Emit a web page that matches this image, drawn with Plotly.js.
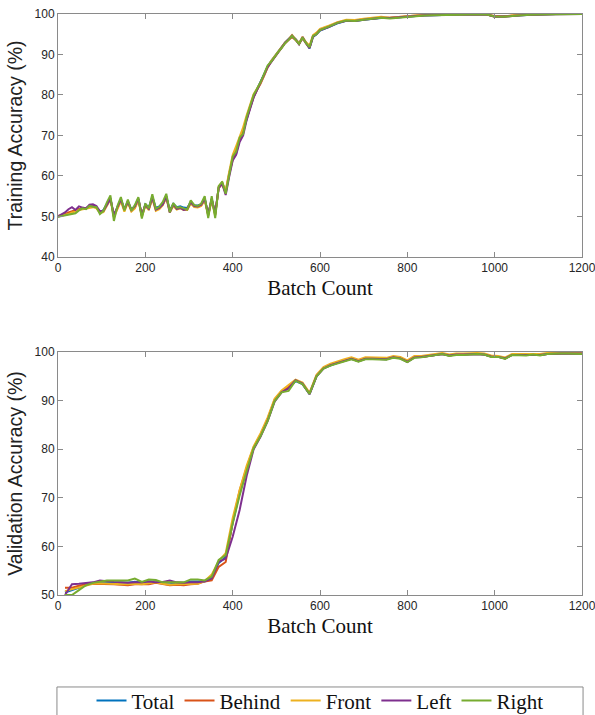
<!DOCTYPE html>
<html>
<head>
<meta charset="utf-8">
<script src="https://cdn.plot.ly/plotly-3.0.1.min.js"></script>
<style>
  html, body { margin: 0; padding: 0; background: #fff; }
  #chart { width: 595px; height: 715px; }
</style>
</head>
<body>
<div id="chart"></div>
<script>
// ---------------- DATA ----------------
const seriesNames = ["Total", "Behind", "Front", "Left", "Right"];
const seriesColors = ["#0072BD", "#D95319", "#EDB120", "#7E2F8E", "#77AC30"];

const trainBatch = [0,8,16,24,32,40,48,56,64,72,80,88,96,104,112,120,128,136,144,152,160,168,176,184,192,200,208,216,224,232,240,248,256,264,272,280,288,296,304,312,320,328,336,344,352,360,368,376,384,392,400,408,416,424,432,440,448,456,464,472,480,488,496,504,512,520,528,536,544,552,560,568,576,584,592,600,620,640,660,680,700,720,740,760,780,800,820,840,860,880,900,920,940,960,980,1000,1020,1040,1060,1080,1100,1120,1140,1160,1180,1200];

const trainTotal = [50.0,50.2,50.5,50.8,51.2,51.4,51.8,52.0,52.0,52.5,
  52.6,52.3,51.0,51.6,53.2,54.6,50.0,52.4,54.3,51.8,
  53.8,51.7,52.6,54.3,50.2,53.0,52.2,54.9,52.1,52.5,
  53.3,55.0,51.5,53.1,52.3,52.5,52.2,52.1,53.6,52.8,
  52.7,53.0,54.5,50.3,54.4,50.4,57.2,58.3,56.0,60.6,
  64.3,65.6,69.0,71.0,74.2,77.0,79.6,81.5,83.0,85.0,
  87.0,88.4,89.6,90.6,91.8,92.9,93.8,94.4,93.8,92.8,
  94.0,93.0,91.5,94.3,95.0,95.9,
  96.8,97.7,98.3,98.3,98.6,98.8,99.0,99.0,99.2,99.4,
  99.5,99.6,99.7,99.8,99.8,99.9,99.9,99.9,99.9,99.4,
  99.4,99.5,99.7,99.8,99.9,99.9,100,100,100,100];

const trainBehind = [50.1,50.3,50.6,51.0,51.3,51.6,51.9,52.1,52.1,52.4,
  52.5,52.2,51.2,51.3,53.0,54.4,50.2,52.2,54.0,51.6,
  53.6,51.5,52.2,54.2,50.4,52.8,51.8,54.6,51.8,52.1,
  53.0,54.8,51.4,52.8,51.9,52.2,51.8,51.9,53.4,52.5,
  52.4,52.8,54.2,50.5,54.2,50.6,57.0,58.0,55.9,60.4,
  64.0,66.2,68.8,71.3,74.0,76.8,79.5,81.3,82.8,84.8,
  86.8,88.2,89.4,90.4,91.6,92.8,93.6,94.3,93.6,92.6,
  94.0,92.9,91.7,94.5,95.2,96.1,
  96.9,97.9,98.4,98.4,98.7,98.9,99.1,99.1,99.3,99.5,
  99.6,99.7,99.7,99.8,99.9,99.9,99.9,100,99.9,99.5,
  99.4,99.6,99.8,99.9,99.9,100,100,100,100,100];

const trainFront = [50.0,50.2,50.4,50.6,51.0,51.2,51.6,51.8,51.9,52.2,
  52.3,52.0,50.9,51.1,52.8,54.2,49.8,52.0,53.8,51.2,
  53.4,51.2,52.0,54.0,49.9,52.6,51.6,54.4,51.4,51.8,
  52.8,54.6,51.0,52.6,51.7,52.0,51.6,51.6,53.2,52.3,
  52.2,52.6,54.0,50.2,54.0,50.2,57.4,58.4,56.4,61.0,
  65.2,67.4,69.8,72.0,75.0,77.6,80.2,81.6,83.0,84.8,
  86.9,88.4,89.6,90.7,91.8,93.0,93.8,94.8,93.8,92.8,
  94.4,93.0,92.2,94.8,95.4,96.3,
  97.1,98.0,98.6,98.5,98.8,99.0,99.3,99.1,99.3,99.5,
  99.7,99.8,99.8,99.9,99.9,100,100,100,100,99.3,
  99.3,99.6,99.8,99.9,100,100,100,100,100,100];

const trainLeft = [50.0,50.4,51.0,51.8,52.3,51.6,52.5,52.2,52.0,52.9,
  53.0,52.6,51.3,51.4,53.0,54.3,50.4,52.3,54.2,51.7,
  53.6,51.6,52.5,54.4,50.3,52.8,51.9,54.7,51.7,52.1,
  53.0,54.9,51.0,53.0,51.9,52.1,51.6,51.8,53.5,52.6,
  52.5,52.9,54.3,50.6,54.3,50.8,57.1,58.1,55.3,59.8,
  63.8,65.2,68.4,70.0,73.8,76.6,79.4,81.3,83.0,85.0,
  86.9,88.0,89.4,90.5,91.7,92.9,93.7,94.7,93.7,92.5,
  94.3,92.7,91.6,94.5,95.0,96.0,
  96.8,97.8,98.3,98.3,98.6,98.8,99.1,99.0,99.2,99.4,
  99.5,99.7,99.7,99.8,99.8,99.9,99.9,99.9,99.9,99.3,
  99.3,99.5,99.7,99.8,99.9,99.9,100,100,100,100];

const trainRight = [49.9,50.1,50.3,50.4,50.7,50.8,51.5,52.0,51.8,52.6,
  52.4,52.3,50.6,51.4,53.5,55.2,48.9,52.6,54.8,51.5,
  54.2,51.4,52.8,54.8,49.5,53.2,52.0,55.5,51.9,52.4,
  53.6,55.6,51.1,53.3,52.2,52.3,52.0,51.7,54.0,52.8,
  52.6,53.2,55.0,49.6,55.0,49.6,57.5,58.6,55.6,60.0,
  64.8,66.0,69.5,70.4,74.5,77.3,80.0,81.6,83.2,85.2,
  87.3,88.2,89.5,90.6,91.6,92.8,93.6,94.6,93.6,92.6,
  94.2,92.8,91.8,94.6,95.0,96.0,
  96.9,97.8,98.4,98.3,98.6,98.8,99.1,98.9,99.1,99.3,
  99.5,99.6,99.7,99.7,99.8,99.8,99.9,99.9,99.9,99.4,
  99.3,99.5,99.7,99.8,99.9,99.9,99.9,100,100,100];

const valBatch = [16,32,48,64,80,96,112,128,144,160,176,192,208,224,240,256,272,288,304,320,336,352,368,384,400,416,432,448,464,480,496,512,528,544,560,576,592,608,624,640,656,672,688,704,720,736,752,768,784,800,816,832,848,864,880,896,912,928,944,960,976,992,1008,1024,1040,1056,1072,1088,1104,1120,1136,1152,1168,1184,1200];

const valTotal = [50.5,51.0,51.6,52.1,52.5,52.6,52.7,52.6,52.5,52.5,
  52.7,52.5,52.8,52.8,52.5,52.5,52.3,52.4,52.8,52.8,
  52.8,53.5,56.6,57.8,64.8,71.0,76.0,80.2,82.8,86.0,
  90.0,91.8,92.6,94.0,93.4,91.4,95.0,96.7,97.3,97.8,
  98.2,98.6,98.1,98.6,98.6,98.5,98.5,98.9,98.7,98.0,
  98.9,99.0,99.2,99.4,99.6,99.3,99.5,99.5,99.6,99.6,
  99.5,99.1,99.0,98.7,99.4,99.4,99.4,99.5,99.4,99.6,
  99.7,99.7,99.7,99.7,99.7];

const valBehind = [51.5,51.5,51.9,52.2,52.3,52.3,52.2,52.2,52.1,52.0,
  52.2,52.2,52.2,52.5,52.2,52.0,52.1,52.0,52.2,52.3,
  52.8,53.0,55.8,56.8,65.0,71.5,76.2,80.4,83.0,86.2,
  90.2,91.9,92.8,94.2,93.5,91.5,95.1,96.7,97.4,97.9,
  98.3,98.7,98.2,98.7,98.7,98.6,98.6,99.0,98.8,98.0,
  99.0,99.0,99.2,99.4,99.6,99.3,99.5,99.5,99.6,99.6,
  99.5,99.1,99.0,98.7,99.4,99.4,99.4,99.5,99.4,99.6,
  99.7,99.7,99.7,99.7,99.7];

const valFront = [50.8,51.2,51.6,52.0,52.3,52.4,52.3,52.3,52.2,52.2,
  52.3,52.2,52.4,52.6,52.3,52.1,52.2,52.2,52.2,52.3,
  52.9,54.2,57.0,58.6,65.8,71.6,76.6,80.6,83.3,86.5,
  90.4,92.1,93.2,94.3,93.7,91.6,95.3,96.9,97.6,98.1,
  98.5,98.9,98.4,98.9,98.9,98.8,98.8,99.2,99.0,98.3,
  99.2,99.2,99.4,99.6,99.8,99.5,99.7,99.7,99.8,99.8,
  99.7,99.3,99.2,98.9,99.6,99.6,99.6,99.7,99.6,99.8,
  99.9,99.9,99.9,99.9,99.9];

const valLeft = [50.0,52.2,52.3,52.4,52.6,53.0,52.8,52.7,52.6,52.5,
  52.6,52.6,52.8,52.6,52.7,53.0,52.6,52.5,52.6,52.6,
  52.8,53.4,56.8,57.5,62.0,67.5,74.5,80.0,82.6,85.8,
  89.8,91.7,92.5,94.2,93.5,91.3,95.0,96.6,97.3,97.7,
  98.2,98.6,98.1,98.6,98.6,98.5,98.5,98.9,98.7,98.0,
  98.9,99.0,99.2,99.4,99.6,99.3,99.5,99.5,99.6,99.6,
  99.5,99.1,99.0,98.7,99.4,99.4,99.4,99.5,99.4,99.6,
  99.7,99.7,99.7,99.7,99.7];

const valRight = [50.0,50.0,51.0,52.0,52.5,52.7,53.0,53.0,53.0,53.0,
  53.4,52.7,53.2,53.1,52.6,52.6,52.6,52.6,53.2,53.2,
  53.0,53.8,57.2,58.2,64.7,70.5,75.5,80.2,82.7,85.8,
  89.9,91.7,92.0,94.1,93.4,91.4,95.0,96.6,97.2,97.6,
  98.1,98.5,98.0,98.5,98.5,98.4,98.4,98.8,98.6,97.9,
  98.8,98.9,99.1,99.3,99.6,99.2,99.4,99.4,99.5,99.6,
  99.5,99.0,99.0,98.6,99.4,99.4,99.3,99.5,99.3,99.6,
  99.7,99.7,99.7,99.6,99.6];

const trainSeries = [trainTotal, trainBehind, trainFront, trainLeft, trainRight];
const valSeries = [valTotal, valBehind, valFront, valLeft, valRight];

const xTicks = [0, 200, 400, 600, 800, 1000, 1200];
const yTicksTrain = [40, 50, 60, 70, 80, 90, 100];
const yTicksVal = [50, 60, 70, 80, 90, 100];

// ---------------- TRACES ----------------
const traces = [];
seriesNames.forEach((name, i) => {
  traces.push({
    x: trainBatch, y: trainSeries[i], type: 'scatter', mode: 'lines',
    name: name, legendgroup: name, showlegend: true,
    line: { color: seriesColors[i], width: 2 },
    xaxis: 'x', yaxis: 'y', hoverinfo: 'skip'
  });
});
seriesNames.forEach((name, i) => {
  traces.push({
    x: valBatch, y: valSeries[i], type: 'scatter', mode: 'lines',
    name: name, legendgroup: name, showlegend: false,
    line: { color: seriesColors[i], width: 2 },
    xaxis: 'x2', yaxis: 'y2', hoverinfo: 'skip'
  });
});

// ---------------- LAYOUT ----------------
const axisColor = '#8a8a8a';
const tickFont = { family: 'Liberation Sans, Arial, sans-serif', size: 12, color: '#262626' };
const serifFont = { family: 'Liberation Serif, Times New Roman, serif', size: 21, color: '#111111' };
const yTitleFont = { family: 'Liberation Sans, Arial, sans-serif', size: 19.5, color: '#222222' };

function xAxis(anchor) {
  return {
    anchor: anchor, domain: [0, 1], range: [0, 1200],
    tickmode: 'array', tickvals: xTicks, ticktext: xTicks.map(String),
    showline: true, linecolor: axisColor, linewidth: 1, mirror: 'ticks',
    ticks: 'inside', ticklen: 5, tickcolor: axisColor, tickwidth: 1,
    showgrid: false, zeroline: false, tickfont: tickFont,
    ticklabeloverflow: 'allow',
    title: { text: 'Batch Count', font: serifFont, standoff: 5 }
  };
}
function yAxis(anchor, domain, range, ticks, title) {
  return {
    anchor: anchor, domain: domain, range: range,
    tickmode: 'array', tickvals: ticks, ticktext: ticks.map(String),
    showline: true, linecolor: axisColor, linewidth: 1, mirror: 'ticks',
    ticks: 'inside', ticklen: 5, tickcolor: axisColor, tickwidth: 1,
    showgrid: false, zeroline: false, tickfont: tickFont,
    ticklabeloverflow: 'allow',
    title: { text: title, font: yTitleFont, standoff: 6 }
  };
}

const layout = {
  width: 595, height: 715,
  margin: { l: 58, r: 13, t: 14, b: 120, autoexpand: false },
  paper_bgcolor: '#ffffff', plot_bgcolor: '#ffffff',
  showlegend: true,
  xaxis: xAxis('y'),
  yaxis: yAxis('x', [0.5818, 1], [40, 100], yTicksTrain, 'Training Accuracy (%)'),
  xaxis2: xAxis('y2'),
  yaxis2: yAxis('x2', [0, 0.4182], [50, 100], yTicksVal, 'Validation Accuracy (%)'),
  legend: {
    orientation: 'h', x: 0.5, xanchor: 'center', y: -0.1824, yanchor: 'middle',
    font: { family: 'Liberation Serif, Times New Roman, serif', size: 21, color: '#111111' },
    bgcolor: 'rgba(0,0,0,0)', borderwidth: 0, itemwidth: 30, tracegroupgap: 0
  },
  shapes: [{
    type: 'rect', xref: 'paper', yref: 'paper',
    x0: -0.002, x1: 1.002, y0: -0.1583, y1: -0.2170,
    line: { color: '#8a8a8a', width: 1 }, fillcolor: 'rgba(0,0,0,0)'
  }]
};

Plotly.newPlot('chart', traces, layout, { staticPlot: true, displayModeBar: false });
</script>
</body>
</html>
